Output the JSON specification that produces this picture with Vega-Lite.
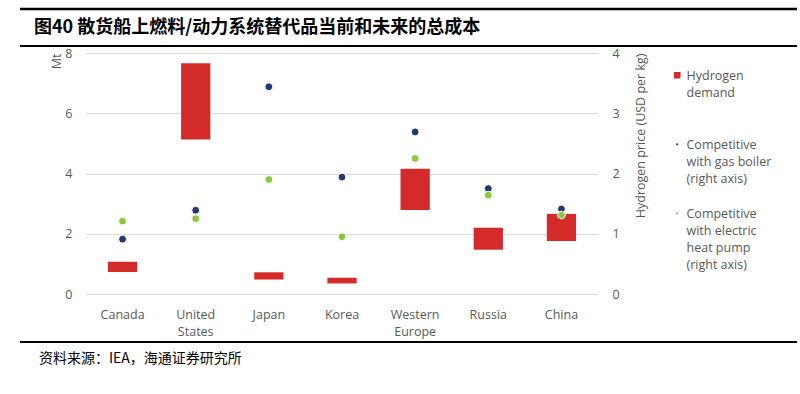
{
  "$schema": "https://vega.github.io/schema/vega-lite/v6.json",
  "background": "white",
  "padding": {"left": 18, "top": 7, "right": 0, "bottom": 0},
  "config": {"view": {"stroke": null}, "font": "Open Sans", "style": {"guide-label": {"lineHeight": 16.75}}},
  "spacing": 0,
  "align": "none",
  "resolve": {"legend": {"color": "independent"}},
  "vconcat": [
    {
      "spacing": 8,
      "align": "none",
      "vconcat": [
        {
          "width": 777, "height": 1,
          "data": {"values": [{"a": 0, "b": 1}]},
          "mark": {"type": "rule", "color": "black", "strokeWidth": 2.5},
          "encoding": {
            "x": {"field": "a", "type": "quantitative", "axis": null, "scale": {"domain": [0, 1]}},
            "x2": {"field": "b"},
            "y": {"field": "a", "type": "quantitative", "axis": null, "scale": {"domain": [0, 1]}}
          }
        },
        {
          "width": 777, "height": 1,
          "data": {"values": [{"a": 0, "b": 1}]},
          "title": {"text": "图40 散货船上燃料/动力系统替代品当前和未来的总成本", "anchor": "start", "frame": "group", "dx": 14, "offset": 8, "font": "Noto Sans CJK SC", "fontSize": 18, "fontWeight": "bold", "color": "black"},
          "mark": {"type": "rule", "color": "black", "strokeWidth": 2},
          "encoding": {
            "x": {"field": "a", "type": "quantitative", "axis": null, "scale": {"domain": [0, 1]}},
            "x2": {"field": "b"},
            "y": {"field": "a", "type": "quantitative", "axis": null, "scale": {"domain": [0, 1]}}
          }
        }
      ]
    },
    {
      "spacing": 0,
      "align": "none",
      "resolve": {"legend": {"color": "independent"}},
      "hconcat": [
        {
          "width": 30, "height": 241,
          "data": {"values": [{"a": 0, "b": 1}]},
          "mark": {"type": "rule", "color": "white", "strokeOpacity": 0},
          "encoding": {
            "x": {"field": "a", "type": "quantitative", "axis": null, "scale": {"domain": [0, 1]}},
            "x2": {"field": "b"},
            "y": {"field": "a", "type": "quantitative", "axis": null, "scale": {"domain": [0, 1]}}
          }
        },
        {
          "width": 512, "height": 241,
          "data": {"values": [
            {"region": "Canada", "low": 0.73, "high": 1.07, "gas": 0.91, "heat": 1.21},
            {"region": "United States", "low": 5.13, "high": 7.66, "gas": 1.39, "heat": 1.25},
            {"region": "Japan", "low": 0.48, "high": 0.72, "gas": 3.44, "heat": 1.9},
            {"region": "Korea", "low": 0.35, "high": 0.54, "gas": 1.94, "heat": 0.95},
            {"region": "Western Europe", "low": 2.79, "high": 4.16, "gas": 2.69, "heat": 2.25},
            {"region": "Russia", "low": 1.47, "high": 2.2, "gas": 1.75, "heat": 1.64},
            {"region": "China", "low": 1.76, "high": 2.66, "gas": 1.41, "heat": 1.31}
          ]},
          "resolve": {"scale": {"y": "independent"}},
          "layer": [
            {
              "mark": {"type": "bar", "color": "#D42A2A"},
              "encoding": {
                "x": {"field": "region", "type": "nominal", "sort": null,
                  "scale": {"paddingInner": 0.6, "paddingOuter": 0.3},
                  "axis": {"title": null, "domain": false, "ticks": false, "labelAngle": 0, "labelPadding": 14, "labelFontSize": 12.5, "labelColor": "#595959", "labelLineHeight": 17.5, "labelExpr": "split(datum.label, ' ')"}},
                "y": {"field": "low", "type": "quantitative", "scale": {"domain": [0, 8]},
                  "axis": {"title": "Mt", "titleAnchor": "end", "titleFontWeight": "normal", "titleFontSize": 12.5, "titleColor": "#595959", "titlePadding": 1, "values": [0, 2, 4, 6, 8], "domain": false, "ticks": false, "labelPadding": 14, "labelFontSize": 12.5, "labelColor": "#595959", "gridColor": "#D9D9D9"}},
                "y2": {"field": "high"},
                "color": {"datum": "Hydrogen demand", "type": "nominal",
                  "scale": {"domain": ["Hydrogen demand", "Competitive with gas boiler (right axis)", "Competitive with electric heat pump (right axis)"], "range": ["#D42A2A", "#203A6E", "#8DC63F"]},
                  "legend": {"title": null, "orient": "none", "legendX": 585, "legendY": 11, "labelBaseline": "top", "labelFontSize": 12.5, "labelColor": "#595959", "labelOffset": 3, "rowPadding": 0,
                    "symbolType": {"expr": "datum.value == 'Hydrogen demand' ? 'M-1,0.25H1V2.25H-1Z' : 'M-1,2.7A1,1,0,1,1,1,2.7A1,1,0,1,1,-1,2.7Z'"},
                    "symbolSize": {"expr": "datum.value == 'Hydrogen demand' ? 64 : 14"},
                    "labelExpr": "datum.label == 'Hydrogen demand' ? ['Hydrogen', 'demand', ' ', ' '] : datum.label == 'Competitive with gas boiler (right axis)' ? ['Competitive', 'with gas boiler', '(right axis)', ' '] : ['Competitive', 'with electric', 'heat pump', '(right axis)']"}}
              }
            },
            {
              "layer": [
                {
                  "mark": {"type": "circle", "size": 62, "opacity": 1, "stroke": "white", "strokeWidth": 1},
                  "encoding": {
                    "x": {"field": "region", "type": "nominal", "sort": null},
                    "y": {"field": "gas", "type": "quantitative", "scale": {"domain": [0, 4]},
                      "axis": {"orient": "right", "title": "Hydrogen price (USD per kg)", "titleAngle": 270, "titleBaseline": "top", "titleAnchor": "end", "titleFontWeight": "normal", "titleFontSize": 12.5, "titleColor": "#595959", "titlePadding": 15, "values": [0, 1, 2, 3, 4], "format": "d", "grid": false, "domain": false, "ticks": false, "labelPadding": 14, "labelFontSize": 12.5, "labelColor": "#595959"}},
                    "color": {"datum": "Competitive with gas boiler (right axis)", "type": "nominal"}
                  }
                },
                {
                  "mark": {"type": "circle", "size": 62, "opacity": 1, "stroke": "white", "strokeWidth": 1},
                  "encoding": {
                    "x": {"field": "region", "type": "nominal", "sort": null},
                    "y": {"field": "heat", "type": "quantitative"},
                    "color": {"datum": "Competitive with electric heat pump (right axis)", "type": "nominal"}
                  }
                }
              ]
            }
          ]
        }
      ]
    },
    {
      "width": 777, "height": 4,
      "data": {"values": [{"a": 0, "b": 1}]},
      "title": {"text": "资料来源：IEA，海通证券研究所", "orient": "bottom", "anchor": "start", "frame": "group", "dx": 19, "offset": 9, "font": "Noto Sans CJK SC", "fontSize": 14, "fontWeight": "normal", "color": "black"},
      "mark": {"type": "rule", "color": "black", "strokeWidth": 2},
      "encoding": {
        "x": {"field": "a", "type": "quantitative", "axis": null, "scale": {"domain": [0, 1]}},
        "x2": {"field": "b"},
        "y": {"field": "a", "type": "quantitative", "axis": null, "scale": {"domain": [0, 1]}}
      }
    }
  ]
}
